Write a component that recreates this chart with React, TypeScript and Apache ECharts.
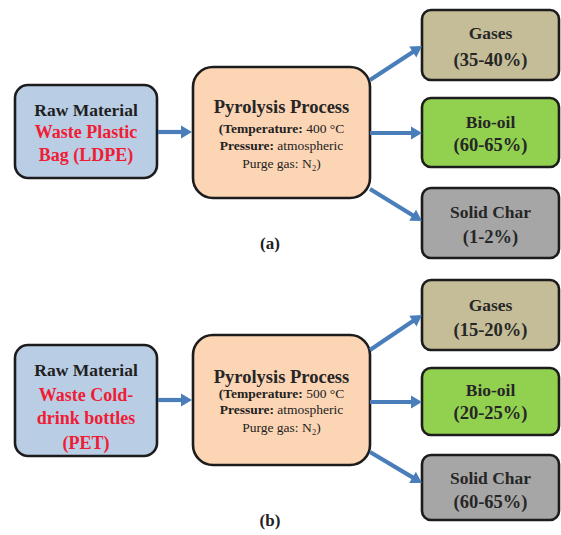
import React, { useEffect, useRef } from "react";
import * as echarts from "echarts";

// ---- Data (texts of the flow diagram) ----
const panelLabels = ["(a)", "(b)"];
const rawTitle = "Raw Material";
const feedstockA = ["Waste Plastic", "Bag (LDPE)"];
const feedstockB = ["Waste Cold-", "drink bottles", "(PET)"];
const processTitle = "Pyrolysis Process";
const temperatures = ["400 °C", "500 °C"];
const pressure = "atmospheric";
const purgeGas = "N₂";
const products = ["Gases", "Bio-oil", "Solid Char"];
const yieldsA = ["35-40%", "60-65%", "1-2%"];
const yieldsB = ["15-20%", "20-25%", "60-65%"];

const FONT = "'Liberation Serif', 'Times New Roman', serif";
const STROKE = "#1c1c1c";
const ARROW = "#4a7ebb";
const productFills = ["#c4bd97", "#92d050", "#a6a6a6"];

function box(x: number, y: number, w: number, h: number, r: number, fill: string) {
  return {
    type: "rect",
    shape: { x, y, width: w, height: h, r },
    style: { fill, stroke: STROKE, lineWidth: 2.6 },
  };
}

function txt(x: number, y: number, text: string, size: number, fill: string, weight = "bold") {
  return {
    type: "text",
    x,
    y,
    style: {
      text,
      fill,
      font: `${weight} ${size}px ${FONT}`,
      textAlign: "center",
      textVerticalAlign: "middle",
    },
  };
}

function richTxt(x: number, y: number, text: string) {
  return {
    type: "text",
    x,
    y,
    style: {
      text,
      textAlign: "center",
      textVerticalAlign: "middle",
      rich: {
        b: { font: `bold 13.5px ${FONT}`, fill: "#222" },
        n: { font: `normal 13.5px ${FONT}`, fill: "#222" },
      },
    },
  };
}

function arrow(x1: number, y1: number, x2: number, y2: number) {
  const dx = x2 - x1;
  const dy = y2 - y1;
  const len = Math.sqrt(dx * dx + dy * dy);
  const ux = dx / len;
  const uy = dy / len;
  const head = 11;
  const half = 6.5;
  const bx = x2 - ux * head;
  const by = y2 - uy * head;
  return [
    {
      type: "line",
      shape: { x1, y1, x2: bx + ux * 1, y2: by + uy * 1 },
      style: { stroke: ARROW, lineWidth: 4.2 },
    },
    {
      type: "polygon",
      shape: {
        points: [
          [x2, y2],
          [bx - uy * half, by + ux * half],
          [bx + uy * half, by - ux * half],
        ],
      },
      style: { fill: ARROW },
    },
  ];
}

type Layout = {
  raw: number[]; // x,y,w,h
  rawText: number[]; // y of lines
  pyro: number[];
  pyroText: number[];
  prodBoxes: number[][];
  prodText: number[][];
  arrowIn: number;
  arrowsOut: number[][];
  label: number;
};

const layouts: Layout[] = [
  {
    raw: [15, 85, 142, 93],
    rawText: [110, 132, 155],
    pyro: [193, 67, 177, 131],
    pyroText: [107, 128, 145, 163],
    prodBoxes: [
      [422, 10, 137, 70],
      [422, 98, 137, 69],
      [422, 188, 137, 70],
    ],
    prodText: [
      [33, 60],
      [122, 145],
      [212, 237],
    ],
    arrowIn: 132,
    arrowsOut: [
      [370, 80, 422, 46],
      [370, 133, 422, 133],
      [370, 189, 422, 221],
    ],
    label: 243,
  },
  {
    raw: [15, 345, 142, 111],
    rawText: [370, 395, 418, 443],
    pyro: [193, 335, 177, 130],
    pyroText: [377, 393, 409, 427],
    prodBoxes: [
      [422, 280, 137, 70],
      [422, 368, 137, 67],
      [422, 455, 137, 65],
    ],
    prodText: [
      [305, 330],
      [390, 413],
      [478, 502],
    ],
    arrowIn: 400,
    arrowsOut: [
      [370, 350, 422, 315],
      [370, 402, 422, 402],
      [370, 452, 422, 483],
    ],
    label: 520,
  },
];

function buildPanel(i: number) {
  const L = layouts[i];
  const feed = i === 0 ? feedstockA : feedstockB;
  const yields = i === 0 ? yieldsA : yieldsB;
  const els: any[] = [];
  const [rx, ry, rw, rh] = L.raw;
  const rcx = rx + rw / 2;
  els.push(box(rx, ry, rw, rh, 13, "#b9cde5"));
  els.push(txt(rcx, L.rawText[0], rawTitle, 17.5, "#1f1f1f"));
  feed.forEach((f, k) => els.push(txt(rcx, L.rawText[k + 1], f, 18, "#f01c34")));

  const [px, py, pw, ph] = L.pyro;
  const pcx = px + pw / 2;
  els.push(box(px, py, pw, ph, 20, "#fcd5b5"));
  els.push(txt(pcx, L.pyroText[0], processTitle, 18.5, "#262626"));
  els.push(richTxt(pcx, L.pyroText[1], `{b|(Temperature:} {n|${temperatures[i]}}`));
  els.push(richTxt(pcx, L.pyroText[2], `{b|Pressure:} {n|${pressure}}`));
  els.push(richTxt(pcx, L.pyroText[3], `{n|Purge gas: ${purgeGas})}`));

  products.forEach((p, k) => {
    const [bx, by, bw, bh] = L.prodBoxes[k];
    const cx = bx + bw / 2;
    els.push(box(bx, by, bw, bh, 9, productFills[k]));
    els.push(txt(cx, L.prodText[k][0], p, 17.5, "#262626"));
    els.push(txt(cx, L.prodText[k][1], `(${yields[k]})`, 18.5, "#262626"));
  });

  els.push(...arrow(rx + rw + 1, L.arrowIn, px - 1, L.arrowIn));
  L.arrowsOut.forEach((a) => els.push(...arrow(a[0], a[1], a[2], a[3])));

  els.push(txt(270, L.label, panelLabels[i], 17, "#222"));
  return els;
}

export default function App() {
  const ref = useRef<HTMLDivElement>(null);
  useEffect(() => {
    if (!ref.current) return;
    const chart = echarts.init(ref.current, undefined, { renderer: "svg" });
    const elements = [...buildPanel(0), ...buildPanel(1)];
    chart.setOption({
      animation: false,
      backgroundColor: "#ffffff",
      graphic: { elements },
    });
    return () => chart.dispose();
  }, []);
  return (
    <div
      ref={ref}
      style={{ position: "fixed", left: 0, top: 0, width: 561, height: 535, background: "#fff" }}
    />
  );
}
